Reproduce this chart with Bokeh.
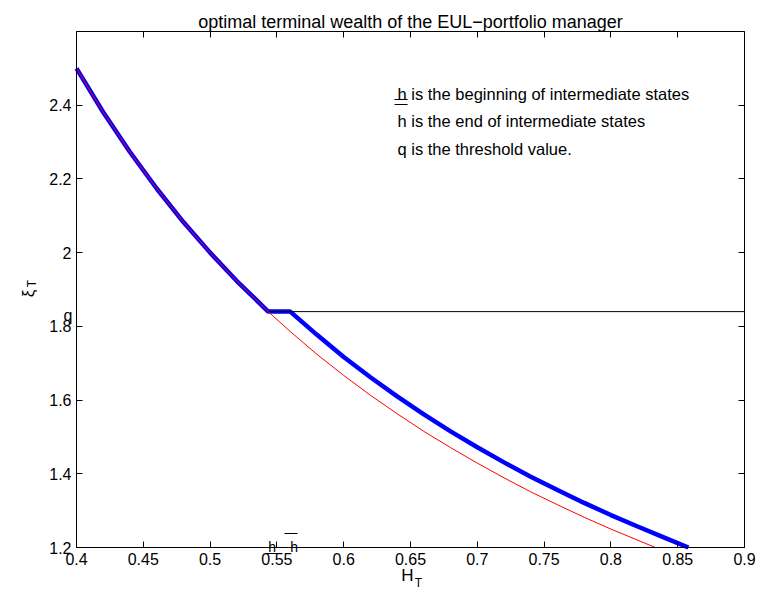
import math
from bokeh.plotting import figure
from bokeh.models import Label, LinearAxis, FixedTicker, CustomJSTickFormatter, Range1d
from bokeh.embed import file_html
from bokeh.resources import INLINE

# ---- data ----
x_ticks = [0.4, 0.45, 0.5, 0.55, 0.6, 0.65, 0.7, 0.75, 0.8, 0.85, 0.9]
y_ticks = [1.2, 1.4, 1.6, 1.8, 2.0, 2.2, 2.4]
x_lim = (0.4, 0.9)
y_lim = (1.2, 2.6)

H_red = [0.40, 0.42, 0.44, 0.46, 0.48, 0.50, 0.52, 0.5435, 0.56, 0.58, 0.60, 0.62,
         0.64, 0.66, 0.68, 0.70, 0.72, 0.74, 0.76, 0.78, 0.80, 0.82, 0.8333]
xi_red = [2.500, 2.381, 2.273, 2.174, 2.083, 2.000, 1.923, 1.840, 1.786, 1.724, 1.667, 1.613,
          1.563, 1.515, 1.471, 1.429, 1.389, 1.351, 1.316, 1.282, 1.250, 1.220, 1.200]

H_blue = [0.40, 0.42, 0.44, 0.46, 0.48, 0.50, 0.52, 0.5435, 0.56, 0.58, 0.60, 0.62,
          0.64, 0.66, 0.68, 0.70, 0.72, 0.74, 0.76, 0.78, 0.80, 0.82, 0.84, 0.858]
xi_blue = [2.500, 2.381, 2.273, 2.174, 2.083, 2.000, 1.923, 1.840, 1.840, 1.777, 1.717, 1.662,
           1.610, 1.561, 1.515, 1.472, 1.431, 1.392, 1.356, 1.321, 1.288, 1.257, 1.227, 1.200]

q_value = 1.84
h_low = 0.5435
h_high = 0.56
thr_x = [h_low, 0.9]
thr_y = [q_value, q_value]

title_text = "optimal terminal wealth of the EUL\u2212portfolio manager"
notes = ["h is the beginning of intermediate states",
         "h is the end of intermediate states",
         "q is the threshold value."]

FONT = "Liberation Sans"

# ---- layout: axes box in page pixels, canvas covers the page ----
CANVAS_X0, CANVAS_Y0 = 1, 1
BOX_L, BOX_T, BOX_R, BOX_B = 77, 32, 745, 548
FW, FH = 758, 600
sx = (BOX_R - BOX_L) / (x_lim[1] - x_lim[0])
sy = (BOX_B - BOX_T) / (y_lim[1] - y_lim[0])
x0 = x_lim[0] - (BOX_L - CANVAS_X0) / sx
y1 = y_lim[1] + (BOX_T - CANVAS_Y0) / sy


def X(px):
    return x_lim[0] + (px - BOX_L) / sx


def Y(py):
    return y_lim[0] + (BOX_B - py) / sy


p = figure(frame_width=FW, frame_height=FH,
           x_range=Range1d(x0, x0 + FW / sx), y_range=Range1d(y1 - FH / sy, y1),
           x_axis_location=None, y_axis_location=None,
           output_backend="svg", toolbar_location=None,
           min_border_left=0, min_border_top=0, min_border_right=0, min_border_bottom=0)
p.xgrid.visible = False
p.ygrid.visible = False
p.outline_line_color = None
p.background_fill_color = "white"
p.border_fill_color = "white"

fmt = CustomJSTickFormatter(code="return tick.toFixed(2).replace(/0+$/,'').replace(/\\.$/,'');")
blank = CustomJSTickFormatter(code="return '';")


def box_axis(ticks, loc, bounds, labelled):
    return LinearAxis(ticker=FixedTicker(ticks=ticks), formatter=fmt if labelled else blank,
                      fixed_location=loc, bounds=bounds,
                      major_tick_in=6, major_tick_out=0, major_tick_line_color="black",
                      minor_tick_line_color=None, axis_line_color="black", axis_line_width=1,
                      major_label_standoff=5, major_label_text_font=FONT,
                      major_label_text_font_size="16px", major_label_text_color="black")


p.add_layout(box_axis(y_ticks, x_lim[0], y_lim, True), "left")
p.add_layout(box_axis(x_ticks, y_lim[0], x_lim, True), "below")
p.add_layout(box_axis(y_ticks, x_lim[1], y_lim, False), "right")
p.add_layout(box_axis(x_ticks, y_lim[1], x_lim, False), "above")

p.line(H_blue, xi_blue, line_color="#0000ff", line_width=4.5)
p.line(thr_x, thr_y, line_color="black", line_width=1)
p.line(H_red, xi_red, line_color="#ff0000", line_width=1)


def lab(x, y, t, size="16.5px", align="left", base="alphabetic", angle=0.0):
    p.add_layout(Label(x=x, y=y, text=t, text_font=FONT, text_font_size=size,
                       text_align=align, text_baseline=base, angle=angle, text_color="black"))


# title
lab(sum(x_lim) / 2, Y(22), title_text, size="18px", align="center")

# explanatory text
lab(X(398), Y(94), notes[0])
lab(X(395), Y(99), "\u2014", size="13px", base="middle")
lab(X(398), Y(121.5), notes[1])
lab(X(395), Y(104), "\u2014", size="13px", base="middle")
lab(X(398), Y(149), notes[2])

# q marker next to the y axis
lab(X(73), Y(316), "q", size="16px", align="right")

# h markers on the x axis
lab(h_low, Y(547.5), "h", size="14px")
lab(X(266), Y(553), "\u2014", size="13px", base="middle")
lab(h_high, Y(547.5), "h", size="14px")
lab(X(285), Y(533), "\u2014", size="13px", base="middle")

# axis labels
lab(X(408), Y(576), "H", size="17px", align="center", base="middle")
lab(X(419), Y(583), "T", size="12px", align="center", base="middle")
lab(X(29), Y(294), "\u03be", size="17px", align="center", base="middle", angle=math.pi / 2)
lab(X(32), Y(284), "T", size="12px", align="center", base="middle", angle=math.pi / 2)

open("out.html", "w").write(file_html(p, INLINE))
